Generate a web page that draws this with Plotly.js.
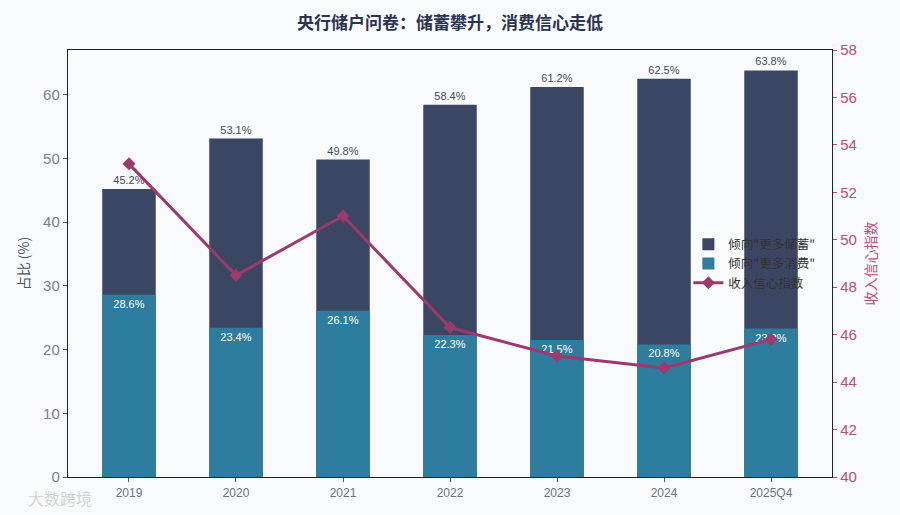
<!DOCTYPE html>
<html><head><meta charset="utf-8">
<script src="https://cdn.plot.ly/plotly-3.0.1.min.js"></script>
<style>html,body{margin:0;padding:0;background:#f8fafc;}#chart{width:900px;height:515px;}</style>
</head><body><div id="chart"></div>
<script>
const categories = ["2019","2020","2021","2022","2023","2024","2025Q4"];
const saveMore = [45.2, 53.1, 49.8, 58.4, 61.2, 62.5, 63.8];
const spendMore = [28.6, 23.4, 26.1, 22.3, 21.5, 20.8, 23.3];
const incomeConfidence = [53.2, 48.5, 51.0, 46.3, 45.1, 44.6, 45.8];

const FONT = '"Liberation Sans", "Noto Sans CJK SC", sans-serif';
const CJK = '"Noto Sans CJK SC", "Liberation Sans", sans-serif';
const traces = [
  {type:'bar', name:'倾向"更多储蓄"', x:categories, y:saveMore, width:0.5,
   marker:{color:'#3b4663'}, text:saveMore.map(v=>v.toFixed(1)+'%'),
   textposition:'outside', textfont:{size:11,color:'#444b5a',family:FONT}, cliponaxis:false, hoverinfo:'y'},
  {type:'bar', name:'倾向"更多消费"', x:categories, y:spendMore, width:0.5,
   marker:{color:'#2e7d9e'}, text:spendMore.map(v=>v.toFixed(1)+'%'),
   textposition:'inside', insidetextanchor:'end', textangle:0,
   textfont:{size:11,color:'#ffffff',family:FONT}, hoverinfo:'y'},
  {type:'scatter', mode:'lines+markers', name:'收入信心指数', x:categories, y:incomeConfidence, yaxis:'y2',
   line:{color:'#9c3a6e', width:3}, marker:{symbol:'diamond', size:10, color:'#9c3a6e'}}
];
const layout = {
  width:900, height:515,
  paper_bgcolor:'#f8fafc', plot_bgcolor:'#f8fafc',
  font:{family:FONT, color:'#7a808c'},
  margin:{l:68, r:68, t:50, b:38},
  title:{text:'<b>央行储户问卷：储蓄攀升，消费信心走低</b>', x:0.5, y:0.955, xanchor:'center', yanchor:'middle',
         font:{size:17, color:'#2b3450', family:CJK}},
  barmode:'overlay', bargap:0.5,
  showlegend:true,
  legend:{x:0.812, y:0.50, xanchor:'left', yanchor:'middle', bgcolor:'rgba(0,0,0,0)',
          font:{size:12.5, color:'#333333', family:CJK}, tracegroupgap:2, itemwidth:30},
  xaxis:{type:'category', range:[-0.57,6.57], showline:true, linecolor:'#222', linewidth:1.2, mirror:true,
         ticks:'outside', ticklen:4, tickcolor:'#555', tickfont:{size:12, color:'#6d7380'}, showgrid:false, zeroline:false},
  yaxis:{range:[0,67], tickvals:[0,10,20,30,40,50,60], showline:true, linecolor:'#222', linewidth:1.2,
         ticks:'outside', ticklen:4, tickcolor:'#555', tickfont:{size:15, color:'#7a808c'}, showgrid:false, zeroline:false,
         title:{text:'占比 (%)', font:{size:14, color:'#4d5566', family:CJK}, standoff:10}},
  yaxis2:{overlaying:'y', side:'right', range:[40,58], tickvals:[40,42,44,46,48,50,52,54,56,58],
          showline:true, linecolor:'#222', linewidth:1.2, ticks:'outside', ticklen:4, tickcolor:'#b5507a',
          tickfont:{size:15, color:'#b5507a'}, showgrid:false, zeroline:false,
          title:{text:'收入信心指数', font:{size:14, color:'#b5507a', family:CJK}, standoff:10}},
  annotations:[{text:'大数跨境', xref:'paper', yref:'paper', x:-0.055, y:-0.05, xanchor:'left', yanchor:'middle',
                showarrow:false, font:{size:16, color:'rgba(200,200,200,0.75)', family:CJK}}]
};
Plotly.newPlot('chart', traces, layout, {displayModeBar:false, staticPlot:true});
</script></body></html>
